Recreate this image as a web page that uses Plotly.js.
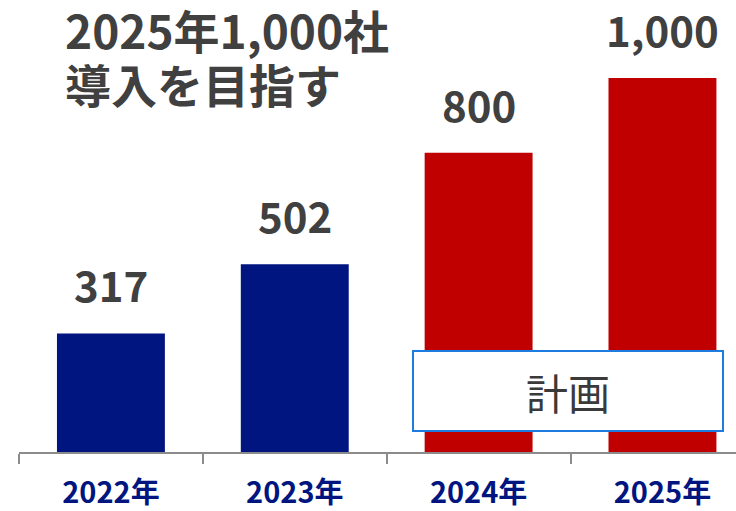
<!DOCTYPE html>
<html><head><meta charset="utf-8">
<script src="https://cdn.plot.ly/plotly-3.0.1.min.js"></script>
<style>html,body{margin:0;padding:0;background:#fff;}#chart{width:736px;height:511px;}</style>
</head><body><div id="chart"></div>
<script>
const categories = ['2022年','2023年','2024年','2025年'];
const values = [317, 502, 800, 1000];
const valueLabels = ['317','502','800','1,000'];
const barColors = ['#001580','#001580','#C00000','#C00000'];
const titleLines = ['2025年1,000社','導入を目指す'];
const planLabel = '計画';

const FONT = '"Noto Sans CJK JP", "Noto Sans", sans-serif';

const trace = {
  type: 'bar',
  x: categories,
  y: values,
  marker: {color: barColors},
  hoverinfo: 'none'
};

const annotations = values.map((v, i) => ({
  x: categories[i], y: v, xref: 'x', yref: 'y',
  text: valueLabels[i], showarrow: false,
  yanchor: 'bottom', yshift: 18, borderpad: 0,
  font: {family: FONT, size: 42, color: '#404040', weight: 'bold'}
}));

annotations.push({
  x: 2.484, y: 163, xref: 'x', yref: 'y',
  text: planLabel, showarrow: false,
  width: 308, height: 78,
  bgcolor: '#ffffff', bordercolor: '#1E7BE0', borderwidth: 2, borderpad: 0,
  font: {family: FONT, size: 42, color: '#3A3A3A'}
});

annotations.push({
  x: 0.062, y: 0.984, xref: 'paper', yref: 'paper',
  xanchor: 'left', yanchor: 'middle',
  text: titleLines[0], showarrow: false,
  font: {family: FONT, size: 46, color: '#404040', weight: 'bold'}
});
annotations.push({
  x: 0.062, y: 0.857, xref: 'paper', yref: 'paper',
  xanchor: 'left', yanchor: 'middle',
  text: titleLines[1], showarrow: false,
  font: {family: FONT, size: 46, color: '#404040', weight: 'bold'}
});

const layout = {
  width: 736, height: 511,
  margin: {l: 19, r: 0, t: 22, b: 59},
  paper_bgcolor: '#ffffff', plot_bgcolor: '#ffffff',
  showlegend: false,
  bargap: 0.413,
  xaxis: {
    type: 'category',
    range: [-0.5, 3.4],
    showline: true, linecolor: '#8C8C8C', linewidth: 2,
    ticks: 'outside', tickson: 'boundaries', ticklen: 10, tickwidth: 2, tickcolor: '#8C8C8C',
    showgrid: false, zeroline: false,
    tickfont: {family: FONT, size: 29, color: '#001580', weight: 'bold'},
    ticklabelstandoff: 14
  },
  yaxis: {
    range: [0, 1150],
    visible: false, showgrid: false, zeroline: false
  },
  annotations: annotations
};

Plotly.newPlot('chart', [trace], layout, {displayModeBar: false, staticPlot: true});
</script>
</body></html>
